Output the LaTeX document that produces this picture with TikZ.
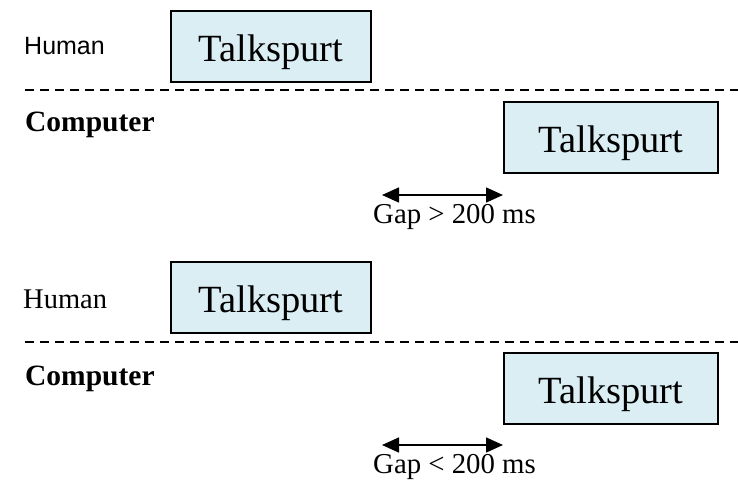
\documentclass[tikz,border=0pt]{standalone}
\usepackage{fontspec}
\setmainfont{Liberation Serif}
\newfontfamily\arialfont{Liberation Sans}
\usetikzlibrary{arrows.meta}
\definecolor{boxfill}{RGB}{219,238,244}
\tikzset{
  spurt/.style={draw=black, line width=2pt, fill=boxfill, rectangle, inner sep=0pt,
    minimum width=200pt, minimum height=71pt, font=\fontsize{38.5}{40}\selectfont,
    text height=30pt, text depth=1pt},
  sep/.style={line width=2pt, dash pattern=on 9pt off 6pt},
  gaparrow/.style={line width=1.5pt, {Triangle[length=17pt,width=15pt]}-{Triangle[length=17pt,width=15pt]}},
  lbl/.style={anchor=base west, inner sep=0pt, font=\fontsize{28.8}{32}\selectfont},
  bold/.style={lbl, font=\fontsize{29.5}{32}\selectfont\bfseries},
}
\begin{document}
\begin{tikzpicture}[x=1pt,y=-1pt]
\useasboundingbox (0,0) rectangle (738,488);
% top panel
\node[anchor=base west, inner sep=0pt, font=\fontsize{25}{28}\selectfont\arialfont] (h1) at (24,54) {Human};
\node[spurt, anchor=north west] (t1) at (170,10) {Talkspurt};
\coordinate (d1a) at (25,90);
\coordinate (d1b) at (738,90);
\draw[sep] (d1a) -- (d1b);
\node[bold] (c1) at (25,131) {Computer};
\node[spurt, minimum width=214pt, anchor=north west] (t2) at (503,101) {Talkspurt};
\coordinate (a1l) at (382,195);
\coordinate (a1r) at (503,195);
\draw[gaparrow] (a1l) -- (a1r);
\node[lbl] (g1) at (373,223) {Gap > 200 ms};
% bottom panel
\node[lbl, font=\fontsize{28.5}{32}\selectfont] (h2) at (23,308) {Human};
\node[spurt, anchor=north west] (t3) at (170,261) {Talkspurt};
\coordinate (d2a) at (25,342);
\coordinate (d2b) at (738,342);
\draw[sep] (d2a) -- (d2b);
\node[bold] (c2) at (25,385) {Computer};
\node[spurt, minimum width=214pt, anchor=north west] (t4) at (503,352) {Talkspurt};
\coordinate (a2l) at (382,445);
\coordinate (a2r) at (503,445);
\draw[gaparrow] (a2l) -- (a2r);
\node[lbl] (g2) at (373,473) {Gap < 200 ms};
\end{tikzpicture}
\end{document}
